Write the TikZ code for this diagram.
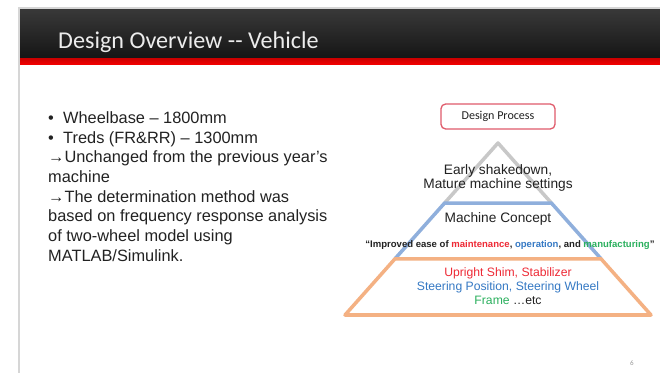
\documentclass[tikz,border=0pt]{standalone}
\usepackage{fontspec}
\setmainfont{Liberation Sans}
\newfontfamily\calibri{Carlito}
\usetikzlibrary{positioning, calc}

\definecolor{framegrey}{HTML}{D6D6D6}
\definecolor{barred}{HTML}{F40000}
\definecolor{titlegrey}{HTML}{ECECEC}
\definecolor{ink}{HTML}{222222}
\definecolor{boxred}{HTML}{E05A6A}
\definecolor{greyline}{HTML}{C8C8C8}
\definecolor{blueline}{HTML}{8FAFDC}
\definecolor{orangeline}{HTML}{F4B183}
\definecolor{hotred}{HTML}{EE2A36}
\definecolor{skyblue}{HTML}{3579C4}
\definecolor{leafgreen}{HTML}{2BB05E}

\begin{document}
\begin{tikzpicture}[
  x=0.03cm, y=-0.03cm,
  every node/.style={inner sep=0pt, text=ink},
  layer/.style={line width=3pt, line join=round, line cap=round},
  process/.style={draw=boxred, line width=1.1pt, rounded corners=4pt, fill=white,
    minimum width=3.42cm, minimum height=0.75cm, font=\calibri\fontsize{10.3}{12}\selectfont},
  body/.style={anchor=base west, align=left, font=\fontsize{13.96}{16.8}\selectfont},
  tier/.style={anchor=base, align=center, font=\fontsize{11.7}{12.8}\selectfont},
  items/.style={anchor=base, align=center, font=\fontsize{10.4}{11.95}\selectfont}
]
\useasboundingbox (0,0) rectangle (660,373);
\fill[white] (0,0) rectangle (660,373);

% slide frame and header bar
\fill[framegrey] (17.5,7) rectangle (660,10);
\fill[framegrey] (17.5,7) rectangle (20,373);
\shade[top color=black!78, bottom color=black!92] (20,10) rectangle (660,59);
\shade[top color=barred!85!black, bottom color=barred] (20,59) rectangle (660,64.5);
\node[anchor=base west, text=titlegrey, font=\calibri\fontsize{20.6}{24}\selectfont]
  (title) at (58,49) {Design Overview {-}{-} Vehicle};

% specification text (base = last line)
\node[body] (specs) at (48,261.2)
{\makebox[12.8pt][l]{•}Wheelbase – 1800mm\\
 \makebox[12.8pt][l]{•}Treds (FR\&RR) – 1300mm\\
 →Unchanged from the previous year’s\\
 machine\\
 →The determination method was\\
 based on frequency response analysis\\
 of two-wheel model using\\
 MATLAB/Simulink.};

% pyramid
\coordinate (apex) at (498,143);
\coordinate (baseL) at (345,315);
\coordinate (baseR) at (651,315);
\coordinate (blueL) at ($(apex)!0.349!(baseL)$);
\coordinate (blueR) at ($(apex)!0.349!(baseR)$);
\coordinate (orangeL) at ($(apex)!0.674!(baseL)$);
\coordinate (orangeR) at ($(apex)!0.674!(baseR)$);

\draw[layer, greyline] (blueL) -- (apex) -- (blueR);
\draw[layer, blueline] (orangeL) -- (blueL) -- (blueR) -- (orangeR);
\draw[layer, orangeline] (orangeL) -- (orangeR) -- (baseR) -- (baseL) -- cycle;

\node[process] (process) at (498,116.5) {Design Process};

\node[tier] (shakedown) at (498,189) {Early shakedown,\\Mature machine settings};
\node[tier] (concept) at (498,223) {Machine Concept};
\node[anchor=base, font=\fontsize{8.15}{10}\selectfont\bfseries] (motto) at (510,248)
  {“Improved ease of \textcolor{hotred}{maintenance}, \textcolor{skyblue}{operation}, and \textcolor{leafgreen}{manufacturing}”};
\node[items] (parts) at (508,305)
  {\textcolor{hotred}{Upright Shim, Stabilizer}\\
   \textcolor{skyblue}{Steering Position, Steering Wheel}\\
   \textcolor{leafgreen}{Frame} …etc};

\node[text=black!40, font=\calibri\fontsize{6}{7}\selectfont] (pagenum) at (632,363) {6};
\end{tikzpicture}
\end{document}
